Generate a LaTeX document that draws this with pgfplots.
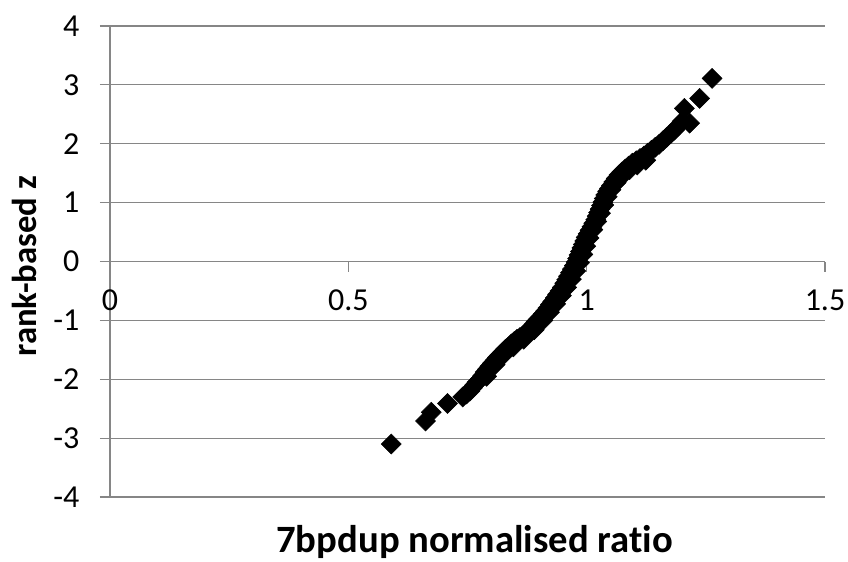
\documentclass[border=0pt]{standalone}
\usepackage{pgfplots}
\pgfplotsset{compat=1.18}
\usepackage{fontspec}
\setmainfont[Ligatures=NoCommon]{Carlito}
\definecolor{gridgray}{RGB}{134,134,134}

\begin{document}
\begin{tikzpicture}
\useasboundingbox (-82.5pt,-48pt) rectangle (553.5pt,372.75pt);
\begin{axis}[
    scale only axis,
    width=536.25pt, height=353.25pt,
    xmin=0, xmax=1.5, ymin=-4, ymax=4,
    xtick={0,0.5,1,1.5},
    ytick={-4,-3,...,4},
    axis x line=middle,
    axis y line=left,
    axis line style={-, gridgray, line width=0.8pt},
    hide obscured x ticks=false,
    hide obscured y ticks=false,
    tick align=outside,
    major tick length=7.5pt,
    tick style={gridgray, line width=0.8pt},
    ymajorgrids=true,
    grid style={gridgray, line width=0.8pt},
    ticklabel style={font=\fontsize{24}{28}\selectfont},
    /pgf/number format/assume math mode=true,
    xticklabel style={anchor=north, yshift=-10pt},
    yticklabel style={anchor=east, xshift=-12pt},
    xlabel={\textbf{7bpdup normalised ratio}},
    ylabel={\textbf{rank-based z}},
    xlabel style={font=\fontsize{29}{33}\selectfont, at={(axis description cs:0.51,-0.117)}, anchor=base},
    ylabel style={font=\fontsize{26}{30}\selectfont, at={(axis description cs:-0.119,0.49)}, anchor=center},
]
\addplot[only marks, mark=square*, mark size=5.3pt, mark options={rotate=45, fill=black, draw=black}]
coordinates {
(0.590,-3.10) (0.662,-2.71) (0.674,-2.56) (0.708,-2.41) (0.740,-2.30)
(0.748,-2.25) (0.755,-2.20) (0.760,-2.15) (0.765,-2.10) (0.770,-2.05)
(0.776,-2.00) (0.782,-1.94) (0.787,-1.88) (0.792,-1.83) (0.797,-1.78)
(0.802,-1.73) (0.808,-1.68) (0.813,-1.63) (0.818,-1.59) (0.824,-1.54)
(0.830,-1.49) (0.836,-1.45) (0.842,-1.40) (0.848,-1.36) (0.854,-1.32)
(0.860,-1.29) (0.866,-1.26) (0.872,-1.22) (0.878,-1.17) (0.884,-1.12)
(0.889,-1.07) (0.894,-1.02) (0.899,-0.98) (0.904,-0.94) (0.909,-0.89)
(0.914,-0.84) (0.919,-0.79) (0.924,-0.73) (0.929,-0.68) (0.934,-0.62)
(0.939,-0.56) (0.944,-0.50) (0.949,-0.44) (0.954,-0.37) (0.958,-0.31)
(0.962,-0.25) (0.966,-0.19) (0.970,-0.13) (0.974,-0.07) (0.978,-0.01)
(0.981,0.05) (0.984,0.11) (0.987,0.17) (0.990,0.23) (0.993,0.29)
(0.996,0.35) (0.999,0.41) (1.003,0.47) (1.007,0.53) (1.011,0.59)
(1.015,0.65) (1.019,0.71) (1.022,0.77) (1.025,0.83) (1.028,0.89)
(1.031,0.95) (1.034,1.01) (1.037,1.07) (1.040,1.13) (1.044,1.19)
(1.048,1.24) (1.052,1.29) (1.057,1.35) (1.062,1.41) (1.068,1.47)
(1.074,1.52) (1.081,1.57) (1.088,1.62) (1.096,1.67) (1.104,1.71)
(1.112,1.75) (1.120,1.79) (1.128,1.84) (1.136,1.89) (1.144,1.94)
(1.152,1.99) (1.160,2.05) (1.168,2.11) (1.176,2.17) (1.184,2.23)
(1.192,2.30) (1.200,2.38) (1.216,2.35) (1.205,2.60) (1.237,2.77)
(1.263,3.11)
(0.790,-1.95) (0.808,-1.75) (0.826,-1.58) (0.846,-1.45) (0.868,-1.32)
(0.890,-1.16) (0.908,-1.00) (0.922,-0.86) (0.935,-0.72) (0.947,-0.58)
(0.958,-0.44) (0.968,-0.30) (0.977,-0.16) (0.985,-0.02) (0.992,0.12)
(0.998,0.26) (1.005,0.40) (1.013,0.54) (1.021,0.68) (1.029,0.82)
(1.036,0.96) (1.043,1.10) (1.051,1.22) (1.062,1.34) (1.075,1.46)
(1.090,1.56) (1.106,1.64) (1.124,1.72)
};
\end{axis}
\end{tikzpicture}
\end{document}
